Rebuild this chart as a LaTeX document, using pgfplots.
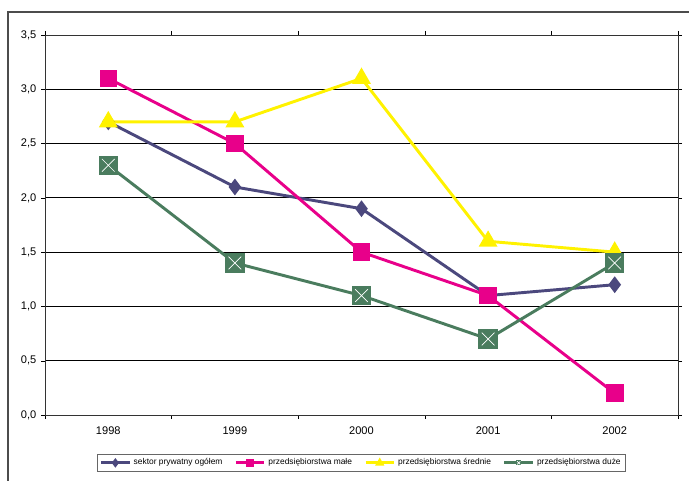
\documentclass[border=0pt]{standalone}
\usepackage{pgfplots}
\pgfplotsset{compat=1.18}
\usepackage{fontspec}
\setmainfont{Liberation Sans}

\definecolor{sektor}{RGB}{75,72,125}
\definecolor{male}{RGB}{232,0,138}
\definecolor{srednie}{RGB}{255,242,0}
\definecolor{duze}{RGB}{74,124,94}

% filled square with a white cross, as in the original chart
\pgfdeclareplotmark{xsq}{%
  \pgfpathrectangle{\pgfpoint{-\pgfplotmarksize}{-\pgfplotmarksize}}{\pgfpoint{2\pgfplotmarksize}{2\pgfplotmarksize}}%
  \pgfusepathqfill
  \pgfsetstrokecolor{white}\pgfsetlinewidth{0.5pt}%
  \pgfpathmoveto{\pgfpoint{-0.65\pgfplotmarksize}{-0.65\pgfplotmarksize}}%
  \pgfpathlineto{\pgfpoint{0.65\pgfplotmarksize}{0.65\pgfplotmarksize}}%
  \pgfpathmoveto{\pgfpoint{-0.65\pgfplotmarksize}{0.65\pgfplotmarksize}}%
  \pgfpathlineto{\pgfpoint{0.65\pgfplotmarksize}{-0.65\pgfplotmarksize}}%
  \pgfusepathqstroke}

\begin{document}
\begin{tikzpicture}
\useasboundingbox (0,0) rectangle (516.75pt,360.75pt);
\draw[line width=0.8pt,black!70] (6pt,0) -- (6pt,351.75pt) -- (516.75pt,351.75pt);
\begin{axis}[
  at={(33.75pt,49.5pt)}, anchor=south west,
  scale only axis, width=474.75pt, height=285pt,
  xmin=-0.5, xmax=4.5, ymin=0, ymax=3.5,
  xtick={0,...,4}, xticklabels={1998,1999,2000,2001,2002},
  major x tick style={draw=none},
  minor xtick={-0.5,0.5,...,4.5},
  ytick={0,0.5,...,3.5},
  tick align=outside, major tick length=3pt, minor tick length=3pt,
  ymajorgrids, grid style={black, line width=0.6pt},
  axis line style={black!80, line width=0.6pt},
  tick style={black},
  tick label style={font=\fontsize{8.3}{9}\selectfont},
  yticklabel style={/pgf/number format/.cd, fixed, fixed zerofill, precision=1, use comma, assume math mode=true},
  xticklabel style={/pgf/number format/assume math mode=true, yshift=-2pt},
  legend style={at={(0.5,-0.126)}, anchor=center, draw=black!60, line width=0.5pt,
    font=\fontsize{6.3}{7}\selectfont, legend columns=4,
    inner sep=1.5pt, /tikz/every even column/.append style={column sep=7pt}},
  legend image code/.code={\draw[#1,line width=2.2pt] (0cm,0cm) -- (0.75cm,0cm); \path[#1,mark size=1.8pt] plot coordinates {(0.375cm,0cm)};},
]
\addplot[sektor, line width=2.2pt, mark=diamond*, mark size=4.5pt] coordinates {
(0,2.7) (1,2.1) (2,1.9) (3,1.1) (4,1.2)};
\addlegendentry{sektor prywatny ogółem}
\addplot[male, line width=2.2pt, mark=square*, mark size=5.5pt] coordinates {
(0,3.1) (1,2.5) (2,1.5) (3,1.1) (4,0.2)};
\addlegendentry{przedsiębiorstwa małe}
\addplot[srednie, line width=2.2pt, mark=triangle*, mark size=6pt] coordinates {
(0,2.7) (1,2.7) (2,3.1) (3,1.6) (4,1.5)};
\addlegendentry{przedsiębiorstwa średnie}
\addplot[duze, line width=2.2pt, mark=xsq, mark size=7.3pt] coordinates {
(0,2.3) (1,1.4) (2,1.1) (3,0.7) (4,1.4)};
\addlegendentry{przedsiębiorstwa duże}
\end{axis}
\end{tikzpicture}
\end{document}
